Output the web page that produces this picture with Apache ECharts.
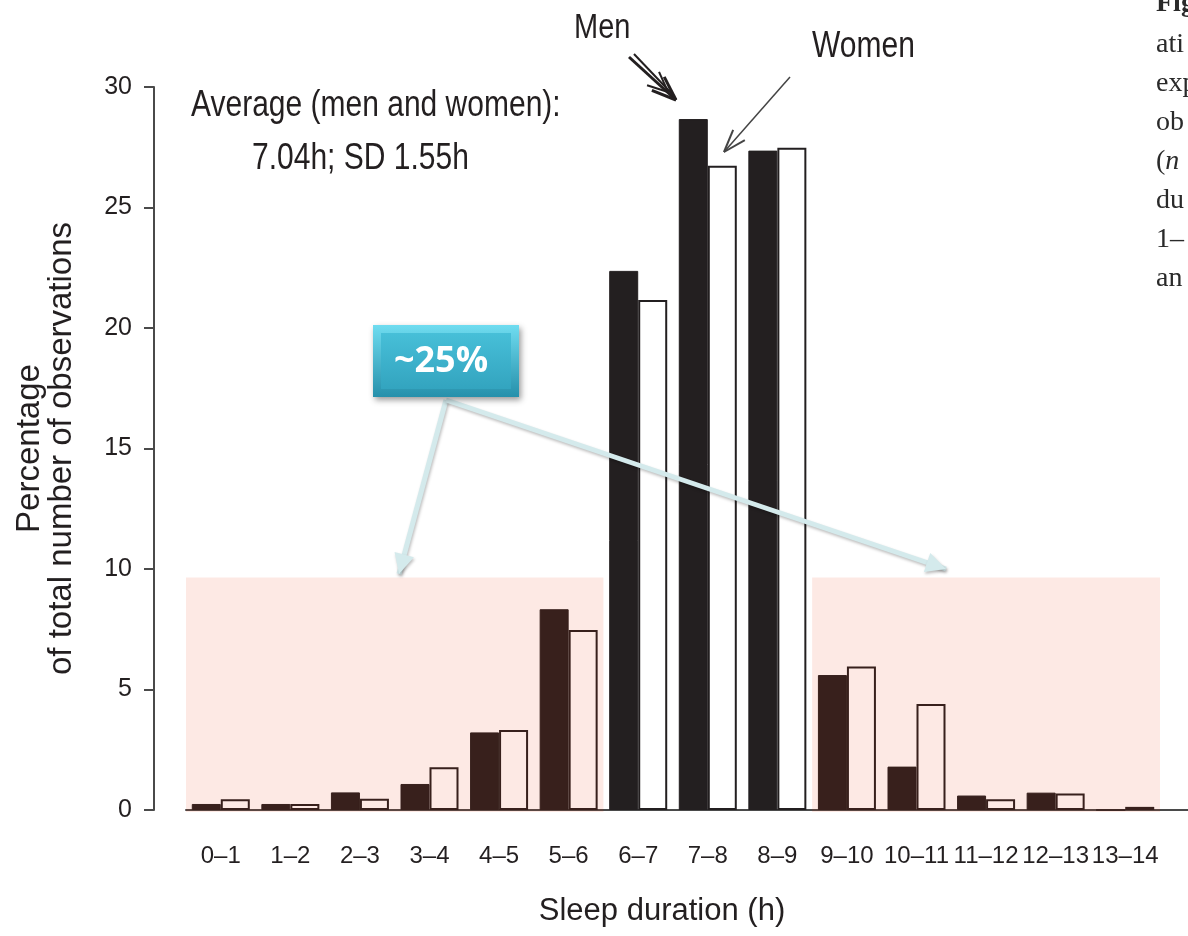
<!DOCTYPE html>
<html>
<head>
<meta charset="utf-8">
<script src="https://cdn.jsdelivr.net/npm/echarts@6/dist/echarts.min.js"></script>
<style>
  html, body { margin: 0; padding: 0; background: #fff; }
  #chart { width: 1188px; height: 936px; }
</style>
</head>
<body>
<div id="chart"></div>
<script>
// sleep duration bins
var categories = ['0–1', '1–2', '2–3', '3–4', '4–5', '5–6', '6–7', '7–8', '8–9', '9–10', '10–11', '11–12', '12–13', '13–14'];
// percentage of observations
var menValues = [0.25, 0.25, 0.73, 1.08, 3.22, 8.33, 22.37, 28.67, 27.36, 5.6, 1.8, 0.6, 0.72, 0];
var womenValues = [0.45, 0.25, 0.47, 1.77, 3.32, 7.47, 21.16, 26.73, 27.48, 5.95, 4.4, 0.45, 0.68, 0.13];
var yTicks = [0, 5, 10, 15, 20, 25, 30];
// shaded ranges: [first bin, last bin, height]
var shadeZones = [[0, 5, 9.65], [9, 13, 9.65]];

var sans = "'Liberation Sans', Arial, sans-serif";
var ink = '#231f20';

var chartDom = document.getElementById('chart');
var myChart = echarts.init(chartDom);

// women bars: white boxes, last one is drawn filled like in the figure
var womenData = womenValues.map(function (v, i) {
  if (i === womenValues.length - 1) {
    return { value: v, itemStyle: { color: ink } };
  }
  return v;
});

function arrowHead(x1, y1, x2, y2, len, half) {
  var dx = x2 - x1, dy = y2 - y1;
  var d = Math.sqrt(dx * dx + dy * dy);
  var ux = dx / d, uy = dy / d;
  var bx = x2 - ux * len, by = y2 - uy * len;
  return [[x2, y2], [bx - uy * half, by + ux * half], [bx + uy * half, by - ux * half]];
}
function barbs(x1, y1, x2, y2, len, ang) {
  var a = Math.atan2(y1 - y2, x1 - x2);
  return [
    [[x2 + Math.cos(a + ang) * len, y2 + Math.sin(a + ang) * len], [x2, y2]],
    [[x2 + Math.cos(a - ang) * len, y2 + Math.sin(a - ang) * len], [x2, y2]]
  ];
}
// the figure's lettering is a bit taller than wide
function label(x, y, text, size) {
  return { type: 'text', x: x, y: y, scaleY: 1.2, style: { text: text, font: size + 'px ' + sans, fill: ink, verticalAlign: 'middle' } };
}

var graphics = [];
// baseline keeps going to the right edge
graphics.push({ type: 'line', shape: { x1: 1160, y1: 810, x2: 1188, y2: 810 }, style: { stroke: '#4a4a4a', lineWidth: 2 } });

// average text
graphics.push(label(191, 106, 'Average (men and women):', 30));
graphics.push(label(252, 159, '7.04h; SD 1.55h', 30));

// Men / Women labels
graphics.push(label(574, 28, 'Men', 29));
graphics.push(label(812, 47, 'Women', 30));

// men arrow (doubled stroke)
graphics.push({ type: 'line', shape: { x1: 629, y1: 57, x2: 676, y2: 100 }, style: { stroke: ink, lineWidth: 3 } });
graphics.push({ type: 'line', shape: { x1: 634, y1: 54, x2: 674, y2: 96 }, style: { stroke: ink, lineWidth: 2 } });
barbs(629, 57, 676, 100, 26, 0.36).forEach(function (b) {
  graphics.push({ type: 'polyline', shape: { points: b }, style: { stroke: ink, lineWidth: 3 } });
});
barbs(629, 57, 668, 92, 22, 0.42).forEach(function (b) {
  graphics.push({ type: 'polyline', shape: { points: b }, style: { stroke: ink, lineWidth: 2 } });
});

// women arrow
graphics.push({ type: 'line', shape: { x1: 790, y1: 77, x2: 724, y2: 152 }, style: { stroke: '#444', lineWidth: 1.5 } });
barbs(790, 77, 724, 152, 24, 0.33).forEach(function (b) {
  graphics.push({ type: 'polyline', shape: { points: b }, style: { stroke: '#444', lineWidth: 2 } });
});

// ~25% callout connectors
var cyan = '#d4eaec';
[[446, 400, 399, 574], [446, 400, 946, 569]].forEach(function (c) {
  graphics.push({
    type: 'line', z: 100,
    shape: { x1: c[0], y1: c[1], x2: c[2], y2: c[3] },
    style: { stroke: cyan, lineWidth: 5, shadowBlur: 3, shadowOffsetX: 1, shadowOffsetY: 2, shadowColor: 'rgba(0,0,0,0.25)' }
  });
  graphics.push({
    type: 'polygon', z: 100,
    shape: { points: arrowHead(c[0], c[1], c[2], c[3], 20, 10) },
    style: { fill: cyan, shadowBlur: 3, shadowOffsetX: 1, shadowOffsetY: 2, shadowColor: 'rgba(0,0,0,0.25)' }
  });
});

// callout box
graphics.push({
  type: 'rect', z: 101,
  shape: { x: 373, y: 325, width: 146, height: 72 },
  style: {
    fill: new echarts.graphic.LinearGradient(0, 0, 0, 1, [
      { offset: 0, color: '#6fdcf0' }, { offset: 1, color: '#2690ab' }
    ]),
    shadowBlur: 6, shadowOffsetX: 2, shadowOffsetY: 3, shadowColor: 'rgba(0,0,0,0.4)'
  }
});
graphics.push({
  type: 'rect', z: 102,
  shape: { x: 381, y: 333, width: 130, height: 56 },
  style: {
    fill: new echarts.graphic.LinearGradient(0, 0, 0, 1, [
      { offset: 0, color: '#47bfd8' }, { offset: 1, color: '#33a4bf' }
    ])
  }
});
graphics.push({
  type: 'text', z: 103, x: 441, y: 362,
  style: { text: '~25%', font: 'bold 36px "Open Sans", Lato, sans-serif', fill: '#ffffff', align: 'center', verticalAlign: 'middle' }
});

// clipped caption column on the right
var captionBits = ['Fig', 'ati', 'exp', 'ob', '(n', 'du', '1–', 'an'];
captionBits.forEach(function (t, i) {
  var st = { font: (i === 0 ? 'bold ' : '') + '28px "Liberation Serif", "DejaVu Serif", serif', fill: '#2a2a2a', verticalAlign: 'middle' };
  if (t === '(n') {
    st.text = '({it|n}';
    st.rich = { it: { font: 'italic 28px "Liberation Serif", serif', fill: '#2a2a2a' } };
  } else {
    st.text = t;
  }
  graphics.push({ type: 'text', x: 1156, y: i === 0 ? 4 : 6 + i * 39, style: st });
});

var option = {
  animation: false,
  backgroundColor: '#ffffff',
  grid: { left: 186, right: 28, top: 87, bottom: 126 },
  xAxis: {
    type: 'category',
    data: categories,
    name: 'Sleep duration (h)',
    nameLocation: 'middle',
    nameGap: 86,
    nameTextStyle: { fontFamily: sans, fontSize: 31, color: ink, padding: [0, 22, 0, 0] },
    axisLine: { lineStyle: { color: '#4a4a4a', width: 2 } },
    axisTick: { alignWithLabel: true, length: 12, lineStyle: { color: '#4a4a4a', width: 2 } },
    axisLabel: { interval: 0, margin: 34, fontFamily: sans, fontSize: 24, color: ink }
  },
  yAxis: {
    type: 'value',
    min: 0,
    max: 30,
    interval: 5,
    offset: 32,
    name: 'Percentage\nof total number of observations',
    nameLocation: 'middle',
    nameRotate: 90,
    nameGap: 76,
    nameTextStyle: { fontFamily: sans, fontSize: 33, lineHeight: 32, color: ink, align: 'center' },
    axisLine: { show: true, lineStyle: { color: '#4a4a4a', width: 2 } },
    axisTick: { show: true, length: 10, lineStyle: { color: '#4a4a4a', width: 2 } },
    axisLabel: {
      margin: 22, fontFamily: sans, fontSize: 25, color: ink,
      formatter: function (v) { return yTicks.indexOf(v) >= 0 ? String(v) : ''; }
    },
    splitLine: { show: false }
  },
  series: [
    {
      name: 'Men',
      type: 'bar',
      data: menValues,
      barWidth: 29,
      barGap: '0%',
      itemStyle: { color: ink, borderColor: ink, borderWidth: 1 }
    },
    {
      name: 'Women',
      type: 'bar',
      data: womenData,
      barWidth: 29,
      itemStyle: { color: '#ffffff', borderColor: ink, borderWidth: 2 }
    },
    {
      name: 'shade',
      type: 'custom',
      z: 5,
      silent: true,
      clip: false,
      data: shadeZones,
      encode: { x: [0, 1], y: 2 },
      renderItem: function (params, api) {
        var bw = api.size([1, 0])[0];
        var top = api.coord([api.value(0), api.value(2)]);
        var bottom = api.coord([api.value(1), 0]);
        return {
          type: 'rect',
          shape: { x: top[0] - bw / 2, y: top[1], width: bottom[0] - top[0] + bw, height: bottom[1] - top[1] + 2 },
          style: { fill: 'rgba(236,46,0,0.105)' }
        };
      }
    }
  ],
  graphic: graphics
};
myChart.setOption(option);
</script>
</body>
</html>
